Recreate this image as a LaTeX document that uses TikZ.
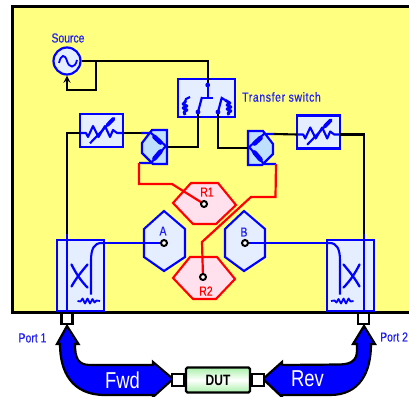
\documentclass[tikz,border=0pt]{standalone}
\usepackage{fontspec}
\setmainfont[FakeStretch=0.8]{Liberation Sans}
\usetikzlibrary{arrows, positioning, calc}

\definecolor{panelyellow}{HTML}{FFFF80}
\definecolor{hwblue}{HTML}{0000FF}
\definecolor{labelblue}{HTML}{2020F0}
\definecolor{boxblue}{HTML}{E4EEFF}
\definecolor{splitblue}{HTML}{BFDFFF}
\definecolor{hexpink}{HTML}{FFE0EC}
\definecolor{dutgreen}{HTML}{A8F0A8}

\tikzset{
  blockbox/.style={rectangle, draw=hwblue, fill=boxblue, line width=2.2, inner sep=0, outer sep=0},
  bluewire/.style={draw=hwblue, line width=2.1},
  wire/.style={draw=black, line width=2.1},
  redwire/.style={draw=red, line width=2.2},
  arrow/.style={->, >=stealth},
  samplerhex/.style={draw=hwblue, fill=boxblue, line width=2.1},
  refhex/.style={draw=red, fill=hexpink, line width=2.1},
  probe/.style={circle, draw=black, fill=white, line width=2, minimum size=6, inner sep=0},
  connbox/.style={rectangle, draw=black, fill=white, line width=2.2, inner sep=0, minimum width=11, minimum height=11},
  bigarrow/.style={draw=black, fill=hwblue, line width=2.2, line join=miter},
  blabel/.style={text=labelblue, font=\fontsize{13}{13}\selectfont\addfontfeature{FakeBold=0.5}, inner sep=0},
  rlabel/.style={text=red, font=\fontsize{13}{13}\selectfont\addfontfeature{FakeBold=0.5}, inner sep=0},
  wlabel/.style={text=white, font=\fontsize{23}{23}\selectfont, inner sep=0},
  atten/.pic={
    \node[blockbox, minimum width=43, minimum height=33] (-box) at (0,0) {};
    \coordinate (-in) at (-21.5,2.5);
    \coordinate (-out) at (21.5,2.5);
    \draw[bluewire, line join=round] (-in) -- (-15.5,2.5) -- (-13.5,6.5) -- (-8.5,-4.5) -- (-3,6.5) -- (3.5,-4.5)
      -- (8.5,6.5) -- (11.5,-0.5) -- (15.5,2.5) -- (-out);
    \draw[bluewire] (-11.5,12.8) -- (12.5,-12.2);
    \draw[hwblue, line width=3.8, line cap=round] (6,-5.5) -- (12,-11.7);
  },
  splitter/.pic={
    \draw[draw=hwblue, fill=splitblue, line width=2.2] (-3,-17) -- (12,-17) -- (12,17) -- (-2,17) -- (-13,6) -- (-13,-4) -- cycle;
    \coordinate (-a) at (-14,-14);
    \coordinate (-b) at (-16,16);
    \coordinate (-c) at (12,0);
    \draw[bluewire] (-a) -- (-4,-14) -- (-c);
    \draw[bluewire] (-c) -- (10,0) -- (-4,16) -- (-b);
    \draw[hwblue, line width=4.6, line cap=round] (-0.5,-10) -- (5.5,-4.5);
    \draw[hwblue, line width=4.6, line cap=round] (-0.5,11.5) -- (5.5,4.5);
  },
  coupler/.pic={
    \node[blockbox, minimum width=47, minimum height=71] (-box) at (0,0) {};
    \coordinate (-top) at (-13.5,-42);
    \coordinate (-side) at (23.5,-32.5);
    \draw[bluewire] (-top) -- (-13.5,35.5);
    \draw[bluewire] (-side) -- (21,-32.5) .. controls (14,-32.5) and (10.5,-27) .. (10.5,-15) -- (10.5,19);
    \draw[hwblue, line width=2.3, line cap=round] (-9,-11) .. controls (-5,-3) and (0,5) .. (7,12);
    \draw[hwblue, line width=2.3, line cap=round] (7,-11) .. controls (2,-5) and (-4,2) .. (-9,11);
    \draw[bluewire, line width=1.8, line join=round] (-3,25.5) -- (0,26) -- (2,23) -- (4.5,28) -- (7,23) -- (9.5,28) -- (12,23.5) -- (14,27) -- (16,25) -- (19.5,25.5);
  },
}

\begin{document}
\begin{tikzpicture}[x=1pt, y=-1pt]
  \useasboundingbox (0,0) rectangle (409,396);
  \clip (0,0) rectangle (409,396);

  % instrument panel
  \draw[draw=black, fill=panelyellow, line width=3] (12,7) rectangle (420,312.5);

  % source and transfer switch
  \node[circle, draw=hwblue, fill=boxblue, line width=2.2, minimum size=27, inner sep=0] (source) at (67,61) {};
  \draw[bluewire, line width=1.8] (59,63) .. controls (61,54) and (65,54) .. (67,61) .. controls (69,68) and (75,69) .. (77,60);
  \node[blabel] (sourcelabel) at (68,38) {Source};
  \node[blockbox, minimum width=57, minimum height=37.5] (switch) at (206.5,98) {};
  \node[blabel, anchor=west] (switchlabel) at (242,97) {\addfontfeature{LetterSpace=5}Transfer switch};
  \coordinate (switchin) at (207.7,85);
  \coordinate (swleft) at (198,112);
  \coordinate (swright) at (218,112);

  % attenuators and splitters
  \pic (attL) at (101.5,130.5) {atten};
  \pic (attR) at (318.7,132) {atten};
  \pic (splitL) at (155,147) {splitter};
  \pic[xscale=-1] (splitR) at (260,148) {splitter};

  % sampler hexagons
  \draw[refhex] (191,183) -- (218,183) -- (236,205) -- (216,224) -- (193,224) -- (173,203) -- cycle;
  \draw[refhex] (190,257) -- (217,257) -- (235,279) -- (216,299) -- (193,299) -- (173,278) -- cycle;
  \draw[samplerhex] (164,211) -- (185,229) -- (185,257) -- (164,271) -- (144,257) -- (144,229) -- cycle;
  \draw[samplerhex] (244,211) -- (265,229) -- (265,257) -- (244,271) -- (225,257) -- (225,229) -- cycle;
  \node[rlabel] (labelRa) at (207,192) {R1};
  \node[rlabel] (labelRb) at (206,291) {R2};
  \node[blabel] (labelA) at (163,231) {A};
  \node[blabel] (labelB) at (244,232) {B};

  % couplers
  \pic (couL) at (80.5,275.5) {coupler};
  \pic[xscale=-1] (couR) at (350.5,275.5) {coupler};

  % wires
  \draw[wire] (source.east) -| (switchin);
  \coordinate (tap) at (96,61);
  \coordinate (tapend) at (96,90);
  \draw[wire, arrow] (tap) -- (tapend) -| (source.south);
  \draw[wire] (attL-in) -| (couL-top);
  \draw[wire] (attL-out) -- (splitL-a);
  \draw[wire] (splitL-c) -| (swleft);
  \draw[wire] (attR-in) -- (splitR-a);
  \draw[wire] (splitR-c) -| (swright);
  \draw[wire] (attR-out) -| (couR-top);

  % inside the switch
  \fill[hwblue] (switchin) circle (2.4);
  \coordinate (swmid) at (207.7,98);
  \draw[bluewire] (switchin) -- (swmid);
  \draw[bluewire] (201.7,98) -- (213,98);
  \draw[bluewire, line width=2.2] (swleft) -- (202,97);
  \draw[bluewire, line width=2.2] (swright) -- (221.7,98) -- (225,100);
  \draw[bluewire, line width=2.2] (190,97) -- (186,99) -- (185,102);
  \draw[hwblue, line width=2.8, line join=round] (186,101) -- (183,104) -- (187,106) -- (183,108) -- (187,110) -- (184,112) -- (185,115);
  \draw[hwblue, line width=2.8, line join=round] (225,100) -- (230,103) -- (227,105) -- (231,107) -- (227,109) -- (231,111) -- (228,113) -- (229,115);
  \fill[hwblue] (swleft) circle (2.4);
  \fill[hwblue] (swright) circle (2.4);

  % probes
  \draw[redwire] (splitL-b) -- ++(0,21) -- ++(33,0) -- (204,204);
  \coordinate (bendA) at (202,242);
  \coordinate (bendB) at (251,197);
  \coordinate (bendC) at (275.5,197);
  \draw[redwire] (203,277) -- (bendA) -- (bendB) -- (bendC) -- (splitR-b);
  \draw[bluewire] (164,243) -- (couL-side);
  \draw[bluewire] (245,243) -- (couR-side);
  \node[probe] (dotRa) at (204,204) {};
  \node[probe] (dotRb) at (203,277) {};
  \node[probe] (dotA) at (164,243) {};
  \node[probe] (dotB) at (245,243) {};

  % test set ports and DUT
  \node[connbox] (portL) at (67,318.5) {};
  \node[connbox] (portR) at (363.5,318.5) {};
  \node[blabel] (portLlabel) at (32.5,338) {Port 1};
  \node[blabel, anchor=west] (portRlabel) at (380,337) {Port 2};
  \draw[bigarrow] (67,326) -- (57,344) -- (60,344) .. controls (60,372) and (72,395) .. (105,395) -- (153,395) -- (153,397) -- (173,379)
    -- (153,362) -- (153,365) -- (90,365) .. controls (78,365) and (75,358) .. (75,344) -- (78.5,344) -- cycle;
  \draw[bigarrow] (364,326) -- (353,344) -- (357,344) -- (357,350) .. controls (357,360) and (352,364) .. (340,364.5) -- (282,365) -- (282,362) -- (263,379)
    -- (282,397) -- (282,395) -- (330,395) .. controls (360,395) and (371,372) .. (371,344) -- (375,344) -- cycle;
  \node[wlabel] (fwdlabel) at (122.5,380) {Fwd};
  \node[wlabel] (revlabel) at (307.5,379) {Rev};
  \node[rectangle, rounded corners=1.5, draw=black, line width=2.2, top color=dutgreen, bottom color=dutgreen, middle color=white, minimum width=64, minimum height=25, inner sep=0,
    font=\fontsize{15}{15}\selectfont\bfseries] (dut) at (218,380) {DUT};
  \node[connbox, minimum width=12, minimum height=12, left=0pt of dut] (dutL) {};
  \node[connbox, minimum width=12, minimum height=12, right=0pt of dut] (dutR) {};
\end{tikzpicture}
\end{document}
